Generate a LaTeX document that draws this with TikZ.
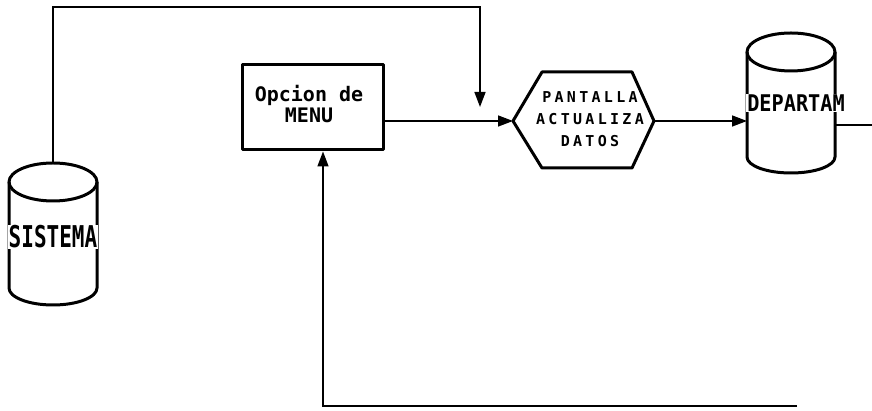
\documentclass[tikz,border=0pt]{standalone}
\usepackage{fontspec}
\usepackage{graphicx}
\usetikzlibrary{arrows.meta}
\newfontfamily\plotfont{DejaVu Sans Mono}
\newfontfamily\spacedfont[LetterSpace=22]{DejaVu Sans Mono}
\begin{document}
\begin{tikzpicture}[x=1pt,y=1pt,
  shapeline/.style={line width=3pt, line join=round},
  conn/.style={line width=1.5pt},
  tip/.style={-{Triangle[length=15pt,width=11pt]}},
  cyltext/.style={fill=white, inner sep=1pt, font=\plotfont\bfseries}
]
\useasboundingbox (0,0) rectangle (872,411);

% SISTEMA cylinder
\draw[shapeline] (53,229) ellipse [x radius=44, y radius=19];
\draw[shapeline] (9,229) -- (9,123) arc[start angle=180, end angle=360, x radius=44, y radius=17] -- (97,229);
\coordinate (sisTop) at (53,248);
\node[cyltext, font=\plotfont\bfseries\fontsize{30}{30}\selectfont] (sis) at (53,174) {\scalebox{0.7}[1]{SISTEMA}};

% Menu box
\node[shapeline, draw, minimum width=141pt, minimum height=85pt, align=center,
      font=\plotfont\bfseries\fontsize{20}{21}\selectfont] (menu) at (312.5,303.5) {};
\node[align=center, font=\plotfont\bfseries\fontsize{20}{21}\selectfont] (menutext) at (309,307) {Opcion de\\MENU};

% Hexagon
\draw[shapeline] (513,290) -- (542,339) -- (632,339) -- (654,290) -- (632,243) -- (542,243) -- cycle;
\coordinate (hexW) at (513,290);
\coordinate (hexE) at (654,290);
\node[align=center, font=\spacedfont\bfseries\fontsize{15}{22}\selectfont] (hex) at (590,292) {PANTALLA\\ACTUALIZA\\DATOS};

% DEPARTAM cylinder
\draw[shapeline] (791,359) ellipse [x radius=44, y radius=19];
\draw[shapeline] (747,359) -- (747,254) arc[start angle=180, end angle=360, x radius=44, y radius=16] -- (835,359);
\coordinate (depW) at (747,290);
\coordinate (depE) at (835,286);
\node[cyltext, font=\plotfont\bfseries\fontsize{23}{23}\selectfont] (dep) at (796,308) {\scalebox{0.88}[1]{DEPARTAM}};

% connectors
\coordinate (topL) at (53,404);
\coordinate (topR) at (480,404);
\coordinate (downTip) at (480,304);
\draw[conn, tip] (sisTop) -- (topL) -- (topR) -- (downTip);

\draw[conn, tip] (menu.east |- hexW) -- (hexW);
\draw[conn, tip] (hexE) -- (depW);

\coordinate (outR) at (872,286);
\draw[conn] (depE) -- (outR);

\coordinate (botR) at (797,5);
\coordinate (botL) at (323,5);
\draw[conn, tip] (botR) -- (botL) -- (botL |- menu.south);
\end{tikzpicture}
\end{document}
